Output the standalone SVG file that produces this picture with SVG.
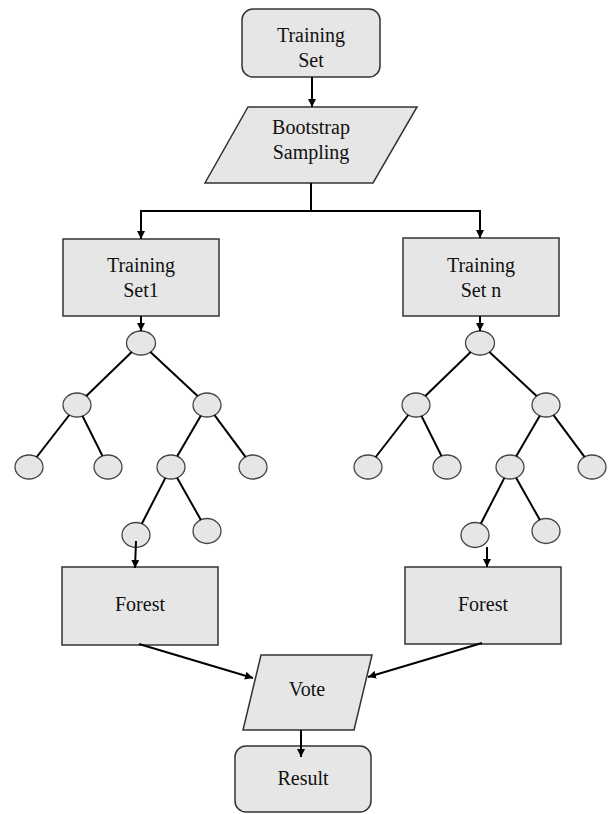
<svg xmlns="http://www.w3.org/2000/svg" width="612" height="814" viewBox="0 0 612 814">
<defs>
<marker id="ah" viewBox="0 0 10 10" refX="10" refY="5" markerWidth="8" markerHeight="8" markerUnits="userSpaceOnUse" orient="auto">
<path d="M0,0 L10,5 L0,10 z" fill="#000"/>
</marker>
<style>
.box{fill:#e6e6e6;stroke:#333;stroke-width:1.5}
.leaf{fill:#e6e6e6;stroke:#444;stroke-width:1.3}
.lbl{font-family:"Liberation Serif","Times New Roman",serif;font-size:20px;fill:#111;text-anchor:middle}
.edge{stroke:#000;stroke-width:2;fill:none}
.arr{stroke:#000;stroke-width:2;fill:none;marker-end:url(#ah)}
</style>
</defs>
<rect width="612" height="814" fill="#fff"/>
<g id="training-set">
<rect class="box" x="242" y="9" width="138" height="68" rx="11"/>
<text class="lbl" x="311" y="42">Training</text>
<text class="lbl" x="311" y="67">Set</text>
</g>
<g id="bootstrap">
<polygon class="box" points="248,107 417,107 373,183 205,183"/>
<text class="lbl" x="311" y="134">Bootstrap</text>
<text class="lbl" x="311" y="159">Sampling</text>
</g>
<g id="training-set1">
<rect class="box" x="63" y="239" width="156" height="77"/>
<text class="lbl" x="141" y="272">Training</text>
<text class="lbl" x="141" y="297">Set1</text>
</g>
<g id="training-setn">
<rect class="box" x="403" y="238" width="156" height="78"/>
<text class="lbl" x="481" y="272">Training</text>
<text class="lbl" x="481" y="297">Set n</text>
</g>
<g id="tree1">
<ellipse class="leaf" cx="141" cy="343" rx="14.5" ry="12"/>
<ellipse class="leaf" cx="77" cy="405" rx="14" ry="12"/>
<ellipse class="leaf" cx="207" cy="405" rx="14" ry="12"/>
<ellipse class="leaf" cx="29" cy="467" rx="14" ry="12"/>
<ellipse class="leaf" cx="108" cy="467" rx="14" ry="12"/>
<ellipse class="leaf" cx="171" cy="467" rx="14" ry="12"/>
<ellipse class="leaf" cx="253" cy="467" rx="14" ry="12"/>
<ellipse class="leaf" cx="136" cy="535" rx="14" ry="12.5"/>
<ellipse class="leaf" cx="207" cy="531" rx="14" ry="12.5"/>
</g>
<g id="tree2">
<ellipse class="leaf" cx="480" cy="343" rx="14.5" ry="12"/>
<ellipse class="leaf" cx="416" cy="405" rx="14" ry="12"/>
<ellipse class="leaf" cx="546" cy="405" rx="14" ry="12"/>
<ellipse class="leaf" cx="368" cy="467" rx="14" ry="12"/>
<ellipse class="leaf" cx="447" cy="467" rx="14" ry="12"/>
<ellipse class="leaf" cx="510" cy="467" rx="14" ry="12"/>
<ellipse class="leaf" cx="592" cy="467" rx="14" ry="12"/>
<ellipse class="leaf" cx="475" cy="535" rx="14" ry="12.5"/>
<ellipse class="leaf" cx="546" cy="531" rx="14" ry="12.5"/>
</g>
<g id="forest1">
<rect class="box" x="62" y="567" width="156" height="78"/>
<text class="lbl" x="140" y="611">Forest</text>
</g>
<g id="forest2">
<rect class="box" x="405" y="567" width="156" height="77"/>
<text class="lbl" x="483" y="611">Forest</text>
</g>
<g id="vote">
<polygon class="box" points="261,655 372,655 354,730 243,730"/>
<text class="lbl" x="307" y="696">Vote</text>
</g>
<g id="result">
<rect class="box" x="235" y="746" width="136" height="66" rx="11"/>
<text class="lbl" x="303" y="785">Result</text>
</g>
<g id="connectors">
<line class="arr" x1="312" y1="77" x2="312" y2="107"/>
<line class="edge" x1="311" y1="183" x2="311" y2="211"/>
<line class="edge" x1="140" y1="211" x2="481" y2="211"/>
<line class="arr" x1="141" y1="211" x2="141" y2="239"/>
<line class="arr" x1="480" y1="211" x2="480" y2="238"/>
<line class="arr" x1="141" y1="316" x2="141" y2="331"/>
<line class="arr" x1="480" y1="316" x2="480" y2="331"/>
<line class="edge" x1="131.7" y1="352" x2="86.3" y2="396"/>
<line class="edge" x1="150.4" y1="351.9" x2="197.6" y2="396.1"/>
<line class="edge" x1="69.3" y1="415" x2="36.7" y2="457"/>
<line class="edge" x1="82.5" y1="416" x2="102.5" y2="456"/>
<line class="edge" x1="200.8" y1="415.7" x2="177.2" y2="456.3"/>
<line class="edge" x1="214.5" y1="415.1" x2="245.5" y2="456.9"/>
<line class="edge" x1="165.4" y1="477.9" x2="141.8" y2="523.7"/>
<line class="edge" x1="177.1" y1="477.8" x2="200.9" y2="520"/>
<line class="edge" x1="470.7" y1="352" x2="425.3" y2="396"/>
<line class="edge" x1="489.4" y1="351.9" x2="536.6" y2="396.1"/>
<line class="edge" x1="408.3" y1="415" x2="375.7" y2="457"/>
<line class="edge" x1="421.5" y1="416" x2="441.5" y2="456"/>
<line class="edge" x1="539.8" y1="415.7" x2="516.2" y2="456.3"/>
<line class="edge" x1="553.5" y1="415.1" x2="584.5" y2="456.9"/>
<line class="edge" x1="504.4" y1="477.9" x2="480.8" y2="523.7"/>
<line class="edge" x1="516.1" y1="477.8" x2="539.9" y2="520"/>
<line class="arr" x1="136" y1="541" x2="135" y2="568"/>
<line class="arr" x1="487" y1="547" x2="487" y2="567"/>
<line class="arr" x1="139" y1="644" x2="253" y2="678"/>
<line class="arr" x1="482" y1="643" x2="368" y2="677"/>
<line class="arr" x1="301" y1="730" x2="301" y2="757"/>
</g>
</svg>
